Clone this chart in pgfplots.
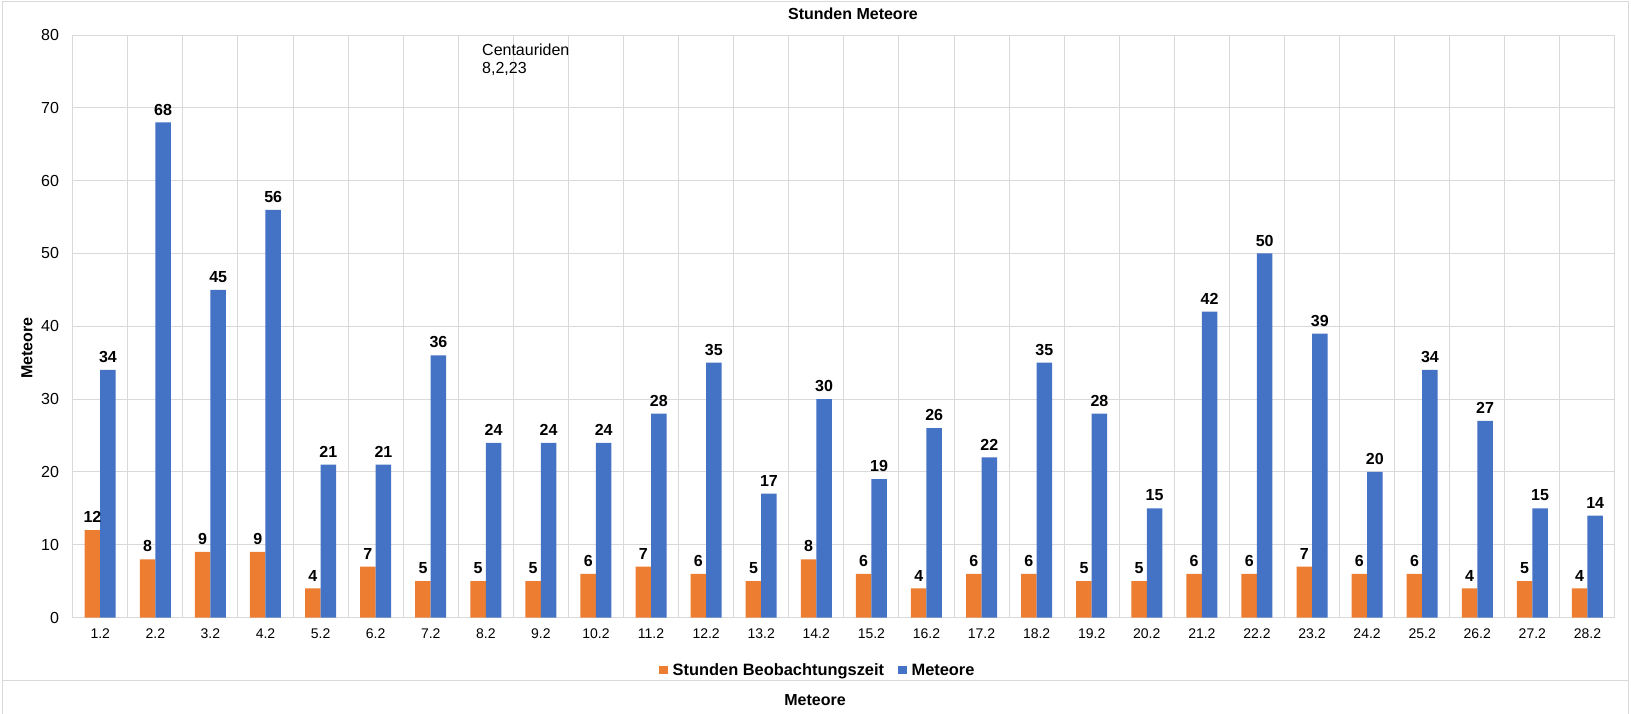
\documentclass[border=0pt]{standalone}
\usepackage{fontspec}
\setmainfont{Liberation Sans}
\usepackage{pgfplots}
\pgfplotsset{compat=1.18}
\definecolor{cOrange}{HTML}{ED7D31}
\definecolor{cBlue}{HTML}{4472C4}
\definecolor{cGrid}{HTML}{D9D9D9}
\definecolor{cFrame}{HTML}{D9D9D9}
\begin{document}
\begin{tikzpicture}[font=\fontsize{16}{18.4}\selectfont]
\useasboundingbox (0pt,0pt) rectangle (1631pt,-714pt);
% outer frame
\draw[cFrame,line width=1pt] (2pt,-714pt) -- (2pt,-1.5pt) -- (1628pt,-1.5pt) -- (1628pt,-714pt);
\draw[cFrame,line width=1pt] (2pt,-680.7pt) -- (1628pt,-680.7pt);
\begin{axis}[
  at={(72.7pt,-617.5pt)}, anchor=south west,
  scale only axis, width=1542.3pt, height=582.5pt,
  xmin=0.5, xmax=28.5, ymin=0, ymax=80,
  ybar=0pt, bar width=15.5pt,
  xtick={1,...,28},
  xticklabels={1.2,2.2,3.2,4.2,5.2,6.2,7.2,8.2,9.2,10.2,11.2,12.2,13.2,14.2,15.2,16.2,17.2,18.2,19.2,20.2,21.2,22.2,23.2,24.2,25.2,26.2,27.2,28.2},
  minor xtick={1.5,2.5,...,27.5},
  ytick={0,10,...,80},
  /pgf/number format/assume math mode=true,
  major tick length=0pt, minor tick length=0pt,
  ymajorgrids, xminorgrids,
  major grid style={cGrid,line width=1pt},
  minor grid style={cGrid,line width=1pt},
  axis line style={cGrid,line width=1pt},
  yticklabel style={font=\fontsize{16}{18}\selectfont, inner sep=0pt, xshift=-13.5pt},
  xticklabel style={font=\fontsize{14}{16}\selectfont, inner sep=0pt, yshift=-11pt},
  nodes near coords,
  every node near coord/.append style={font=\bfseries\fontsize{16}{18}\selectfont, inner sep=0pt, yshift=7pt, text=black},
  legend columns=2,
  legend style={at={(0.4825,-0.0904)}, anchor=center, draw=none, fill=none, inner sep=0pt,
    font=\bfseries\fontsize{16.4}{18}\selectfont,
    nodes={inner sep=0pt},
    /tikz/every even column/.append style={column sep=14pt}},
  legend image code/.code={\fill[#1,draw=none] (0pt,-4.25pt) rectangle (8.5pt,4.25pt); \path (13.5pt,0pt);},
  clip=false,
]
\addplot[fill=cOrange, draw=none] coordinates {
(1,12) (2,8) (3,9) (4,9) (5,4) (6,7) (7,5) (8,5) (9,5) (10,6) (11,7) (12,6) (13,5) (14,8)
(15,6) (16,4) (17,6) (18,6) (19,5) (20,5) (21,6) (22,6) (23,7) (24,6) (25,6) (26,4) (27,5) (28,4)};
\addlegendentry{Stunden Beobachtungszeit}
\addplot[fill=cBlue, draw=none] coordinates {
(1,34) (2,68) (3,45) (4,56) (5,21) (6,21) (7,36) (8,24) (9,24) (10,24) (11,28) (12,35) (13,17) (14,30)
(15,19) (16,26) (17,22) (18,35) (19,28) (20,15) (21,42) (22,50) (23,39) (24,20) (25,34) (26,27) (27,15) (28,14)};
\addlegendentry{Meteore}
\end{axis}
% title and labels
\node[anchor=base, font=\bfseries\fontsize{16}{18}\selectfont] at (853pt,-19.3pt) {Stunden Meteore};
\node[anchor=base, rotate=90, font=\bfseries\fontsize{16}{18}\selectfont] at (32.3pt,-348pt) {Meteore};
\node[anchor=base, font=\bfseries\fontsize{16}{18}\selectfont] at (815pt,-705pt) {Meteore};
\node[anchor=base west, inner sep=0pt] at (482pt,-55.7pt) {Centauriden};
\node[anchor=base west, inner sep=0pt] at (482pt,-74pt) {8,2,23};
\end{tikzpicture}
\end{document}
